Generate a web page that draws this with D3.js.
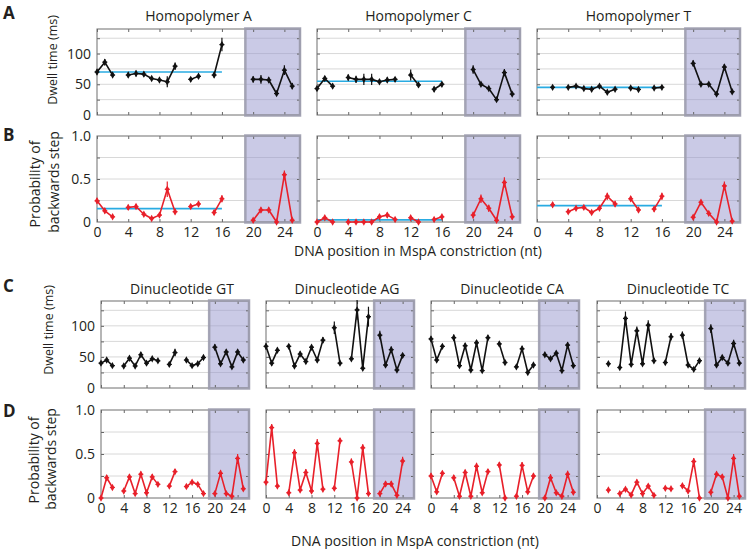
<!DOCTYPE html>
<html><head><meta charset="utf-8">
<script src="https://cdn.jsdelivr.net/npm/d3@7"></script>
<style>
body{margin:0;background:#fff;}
svg text{font-family:"Open Sans",sans-serif;fill:#231f20;}
</style></head><body>
<svg id="chart" width="747" height="549"></svg>
<script>
// ---------- data ----------
const positions = d3.range(0, 26);
const xTickValues = [0, 4, 8, 12, 16, 20, 24];
const dwellTickValues = [0, 50, 100];
const dwellGridValues = [25, 50, 75, 100, 125];
const probTickValues = [0, 0.5, 1.0];
const probGridValues = [0.25, 0.5, 0.75];
const homoTitles = ["Homopolymer A", "Homopolymer C", "Homopolymer T"];
const dinucTitles = ["Dinucleotide GT", "Dinucleotide AG", "Dinucleotide CA", "Dinucleotide TC"];
const shadedRange = [19, 26];
const baselineRange = [0, 16];

// Dwell time (ms), homopolymers
const dwellHomoA = [70,86,65,null,65,67.5,66.5,59.5,57,54,79.5,null,58,63,null,65,114.6,null,null,null,58,58,57,35,73,47];
const dwellHomoC = [43,59.5,47,null,61,58,58,58,54,57,58,null,65,49,null,42,50,null,null,null,74,50,43,25,69,34];
const dwellHomoT = [null,null,45,null,45,47,43,42,47,37,42,null,44,41.6,null,44,45,null,null,null,84,50,50,34,78,38];
const errDwellHomoA = [4,5,3,null,4,5,4,3,3,9,6,null,4,4,null,4,11,null,null,null,5,7,4,3,8,5];
const errDwellHomoC = [3,4,4,null,5,6,9,9,4,4,4,null,9,4,null,4,3,null,null,null,7,3,3,2,6,3];
const errDwellHomoT = [2,2,2,null,2,2,2,2,2,2,2,null,2,2,null,2,2,null,null,null,5,2,2,2,5,2];
const baselineDwellHomo = [70, 55, 45];

// Probability of backwards step, homopolymers
const backHomoA = [0.246,0.13,0.06,null,0.17,0.18,0.09,0.04,0.08,0.38,0.12,null,0.18,0.21,null,0.11,0.27,null,null,null,0.02,0.14,0.14,0.0,0.55,0.02];
const backHomoC = [0.0,0.05,0.0,null,0.0,0.0,0.0,0.0,0.06,0.08,0.03,null,0.05,0.0,null,0.03,0.06,null,null,null,0.08,0.27,0.16,0.02,0.46,0.06];
const backHomoT = [null,null,0.2,null,0.12,0.16,0.17,0.11,0.16,0.3,0.21,null,0.27,0.14,null,0.15,0.3,null,null,null,0.055,0.23,0.1,0.0,0.42,0.01];
const errBackHomoA = [0.03,0.03,0.02,null,0.03,0.03,0.02,0.01,0.02,0.09,0.03,null,0.03,0.03,null,0.03,0.04,null,null,null,0.01,0.03,0.03,0.0,0.05,0.01];
const errBackHomoC = [0.0,0.02,0.0,null,0.0,0.0,0.0,0.0,0.02,0.03,0.01,null,0.02,0.0,null,0.01,0.02,null,null,null,0.04,0.05,0.04,0.01,0.06,0.03];
const errBackHomoT = [null,null,0.03,null,0.02,0.02,0.02,0.02,0.02,0.04,0.03,null,0.03,0.03,null,0.03,0.04,null,null,null,0.02,0.03,0.02,0.0,0.05,0.01];
const baselineBackHomo = [0.155, 0.025, 0.19];

// Dwell time (ms), dinucleotides
const dwellGT = [40,45,36,null,35.5,48,35.5,53.5,40,47,43.7,null,38,57,null,45,36,39,49,null,65.6,39,58,34,58,45];
const dwellAG = [67,40,60.6,null,67,35.5,54.6,42.6,65.6,45,77,null,97,40,null,47,125.7,31.7,114.8,null,85,37,61.7,29,52.5,null];
const dwellCA = [79,45,67,null,81,36,68,29,72.7,28,81,null,71,41,null,34,63,25,37,null,53.6,47,56,28,69,36];
const dwellTC = [null,null,39,null,33,112,38,92,39,101,44,null,41,82.5,null,85,37,30,44,null,95.6,37,49,40,71.6,40];
const errDwellGT = [3,3,2,null,2,4,2,4,3,3,3,null,3,6,null,3,2,3,3,null,5,3,4,3,4,3];
const errDwellAG = [5,4,4,null,4,3,4,3,4,4,5,null,10,3,null,3,16,3,16,null,7,3,5,3,4,null];
const errDwellCA = [4,3,4,null,5,3,4,3,4,3,4,null,4,3,null,3,5,2,3,null,3,3,3,3,5,3];
const errDwellTC = [null,null,2,null,2,11,3,7,3,8,4,null,3,6,null,6,3,2,3,null,7,3,3,3,6,3];

// Probability of backwards step, dinucleotides
const backGT = [0.0,0.23,0.12,null,0.08,0.24,0.05,0.27,0.06,0.24,0.155,null,0.135,0.3,null,0.13,0.18,0.155,0.05,null,0.05,0.28,0.05,0.02,0.45,0.105];
const backAG = [0.18,0.8,0.135,null,0.06,0.515,0.09,0.29,0.08,0.62,0.1,null,0.11,0.65,null,0.41,0.0,0.57,0.05,null,0.05,0.16,0.16,0.03,0.42,null];
const backCA = [0.25,0.07,0.28,null,0.23,0.02,0.29,0.02,0.36,0.06,0.3,null,0.375,0.0,null,0.02,0.37,0.07,0.25,null,0.0,0.23,0.06,0.02,0.27,0.065];
const backTC = [null,null,0.09,null,0.05,0.1,0.035,0.18,0.05,0.135,0.03,null,0.11,0.105,null,0.14,0.08,0.415,0.0,null,0.065,0.27,0.24,0.0,0.45,0.02];
const errBackGT = [0.01,0.03,0.02,null,0.02,0.03,0.02,0.03,0.02,0.03,0.02,null,0.02,0.03,null,0.02,0.02,0.02,0.01,null,0.02,0.04,0.02,0.01,0.05,0.02];
const errBackAG = [0.02,0.04,0.02,null,0.02,0.04,0.02,0.04,0.02,0.05,0.02,null,0.02,0.03,null,0.04,0.0,0.04,0.02,null,0.02,0.03,0.03,0.01,0.05,null];
const errBackCA = [0.03,0.02,0.03,null,0.03,0.01,0.03,0.01,0.04,0.02,0.03,null,0.03,0.0,null,0.01,0.04,0.02,0.03,null,0.0,0.04,0.02,0.01,0.04,0.02];
const errBackTC = [null,null,0.02,null,0.01,0.02,0.01,0.03,0.01,0.02,0.01,null,0.02,0.02,null,0.02,0.02,0.04,0.0,null,0.02,0.03,0.03,0.0,0.05,0.01];

// ---------- drawing ----------
const svg = d3.select("#chart");
const BLACK = "#111111", RED = "#e8202a", CYAN = "#29abe2";

function drawPanel(cfg) {
  const g = svg.append("g").attr("transform", `translate(${cfg.left},${cfg.top})`);
  const w = cfg.width, h = cfg.height;
  const x = d3.scaleLinear().domain([0, 26]).range([0, w]);
  const y = d3.scaleLinear().domain(cfg.yDomain).range([h, 0]);

  g.append("rect").attr("width", w).attr("height", h).attr("fill", "#fff");
  g.selectAll(".grid").data(cfg.grid).join("line")
    .attr("x1", 0).attr("x2", w).attr("y1", d => y(d)).attr("y2", d => y(d))
    .attr("stroke", "#d8d8d8").attr("stroke-width", 1);
  g.append("rect")
    .attr("x", x(shadedRange[0])).attr("y", 0)
    .attr("width", x(shadedRange[1]) - x(shadedRange[0])).attr("height", h)
    .attr("fill", "rgb(150,150,205)").attr("fill-opacity", 0.5);
  const fmtX = cfg.xLabels ? d3.format("d") : () => "";
  const xb = g.append("g").attr("transform", `translate(0,${h})`)
    .call(d3.axisBottom(x).tickValues(xTickValues).tickSizeInner(-3).tickSizeOuter(0).tickPadding(5).tickFormat(fmtX));
  const xt = g.append("g")
    .call(d3.axisTop(x).tickValues(xTickValues).tickSizeInner(-3).tickSizeOuter(0).tickFormat(() => ""));
  const fmtY = cfg.yLabels ? cfg.yFormat : () => "";
  const yl = g.append("g")
    .call(d3.axisLeft(y).tickValues(cfg.yTicks).tickSizeInner(0).tickSizeOuter(0).tickPadding(6).tickFormat(fmtY));
  const yl2 = g.append("g")
    .call(d3.axisLeft(y).tickValues(cfg.grid).tickSizeInner(-3).tickSizeOuter(0).tickFormat(() => ""));
  const yr = g.append("g").attr("transform", `translate(${w},0)`)
    .call(d3.axisRight(y).tickValues(cfg.grid).tickSizeInner(-3).tickSizeOuter(0).tickFormat(() => ""));
  [xb, xt, yl, yl2, yr].forEach(a => {
    a.select(".domain").remove();
    a.selectAll("line").attr("stroke", "#666");
    a.selectAll("text").attr("font-family", "'Open Sans',sans-serif").attr("font-size", 14).attr("fill", "#231f20");
  });
  g.append("rect").attr("width", w).attr("height", h).attr("fill", "none")
    .attr("stroke", "#6e6e6e").attr("stroke-width", 1);
  g.append("rect")
    .attr("x", x(shadedRange[0])).attr("y", -0.5)
    .attr("width", x(shadedRange[1]) - x(shadedRange[0])).attr("height", h + 1)
    .attr("fill", "none").attr("stroke", "#9c9cae").attr("stroke-width", 2.5).attr("stroke-opacity", 0.9);

  if (cfg.baseline != null) {
    g.append("line")
      .attr("x1", x(baselineRange[0])).attr("x2", x(baselineRange[1]))
      .attr("y1", y(cfg.baseline)).attr("y2", y(cfg.baseline))
      .attr("stroke", CYAN).attr("stroke-width", 1.6);
  }
  const pts = positions.map((p, i) => ({x: p, v: cfg.values[i], e: cfg.errors[i]}));
  const line = d3.line().defined(d => d.v != null).x(d => x(d.x)).y(d => y(d.v));
  g.append("path").datum(pts).attr("d", line)
    .attr("fill", "none").attr("stroke", cfg.color).attr("stroke-width", 1.6).attr("stroke-linejoin", "round");
  const valid = pts.filter(d => d.v != null);
  g.selectAll(".eb").data(valid).join("line")
    .attr("x1", d => x(d.x)).attr("x2", d => x(d.x))
    .attr("y1", d => y(d.v - (d.e || 0))).attr("y2", d => y(d.v + (d.e || 0)))
    .attr("stroke", cfg.color).attr("stroke-width", 1.2);
  g.selectAll(".mk").data(valid).join("path")
    .attr("transform", d => `translate(${x(d.x)},${y(d.v)})`)
    .attr("d", d3.symbol(d3.symbolDiamond, 16)())
    .attr("fill", cfg.color);
  g.selectAll(".mkh").data(valid).join("line")
    .attr("x1", d => x(d.x) - 2.5).attr("x2", d => x(d.x) + 2.5)
    .attr("y1", d => y(d.v)).attr("y2", d => y(d.v))
    .attr("stroke", cfg.color).attr("stroke-width", 1.2);

  if (cfg.title) {
    svg.append("text").attr("x", cfg.left + w / 2 + (cfg.titleDx || 0)).attr("y", cfg.titleY)
      .attr("text-anchor", "middle").attr("font-size", 14).text(cfg.title);
  }
}

const fmtDwell = d3.format("d");
const fmtProb = d => d === 0 ? "0" : d3.format(".1f")(d);

const homoLefts = [97, 317, 537], homoW = 203;
const dinucLefts = [101, 266, 431, 597], dinucW = 148;

const homoDwell = [dwellHomoA, dwellHomoC, dwellHomoT];
const homoDwellErr = [errDwellHomoA, errDwellHomoC, errDwellHomoT];
const homoBack = [backHomoA, backHomoC, backHomoT];
const homoBackErr = [errBackHomoA, errBackHomoC, errBackHomoT];
homoLefts.forEach((L, i) => {
  drawPanel({left: L, top: 29, width: homoW, height: 86, yDomain: [0, 140],
    yTicks: dwellTickValues, grid: dwellGridValues, yFormat: fmtDwell,
    yLabels: i === 0, xLabels: false, values: homoDwell[i], errors: homoDwellErr[i],
    color: BLACK, baseline: baselineDwellHomo[i], title: homoTitles[i], titleY: 21});
  drawPanel({left: L, top: 136, width: homoW, height: 86, yDomain: [0, 1],
    yTicks: probTickValues, grid: probGridValues, yFormat: fmtProb,
    yLabels: i === 0, xLabels: true, values: homoBack[i], errors: homoBackErr[i],
    color: RED, baseline: baselineBackHomo[i]});
});

const dinucDwell = [dwellGT, dwellAG, dwellCA, dwellTC];
const dinucDwellErr = [errDwellGT, errDwellAG, errDwellCA, errDwellTC];
const dinucBack = [backGT, backAG, backCA, backTC];
const dinucBackErr = [errBackGT, errBackAG, errBackCA, errBackTC];
dinucLefts.forEach((L, i) => {
  drawPanel({left: L, top: 301, width: dinucW, height: 87, yDomain: [0, 140],
    yTicks: dwellTickValues, grid: dwellGridValues, yFormat: fmtDwell,
    yLabels: i === 0, xLabels: false, values: dinucDwell[i], errors: dinucDwellErr[i],
    color: BLACK, baseline: null, title: dinucTitles[i], titleY: 294, titleDx: 7});
  drawPanel({left: L, top: 410, width: dinucW, height: 88, yDomain: [0, 1],
    yTicks: probTickValues, grid: probGridValues, yFormat: fmtProb,
    yLabels: i === 0, xLabels: true, values: dinucBack[i], errors: dinucBackErr[i],
    color: RED, baseline: null});
});

[["A", 19], ["B", 141], ["C", 292], ["D", 417]].forEach(([t, yy]) => {
  svg.append("text").attr("x", 3).attr("y", yy).attr("font-family", "'Liberation Sans',Arial,sans-serif")
    .attr("font-weight", "bold").attr("font-size", 17).text(t);
});

function vText(txt, cx, cy, size) {
  svg.append("text").attr("transform", `translate(${cx},${cy}) rotate(-90)`)
    .attr("text-anchor", "middle").attr("dy", "0.35em").attr("font-size", size).text(txt);
}
vText("Dwell time (ms)", 53, 60, 12.5);
vText("Probability of", 35, 184, 14);
vText("backwards step", 54, 182, 14);
vText("Dwell time (ms)", 49, 330, 12.5);
vText("Probability of", 34, 460, 14);
vText("backwards step", 51, 459, 14);

svg.append("text").attr("x", 418).attr("y", 256).attr("text-anchor", "middle").attr("font-size", 14)
  .text("DNA position in MspA constriction (nt)");
svg.append("text").attr("x", 415).attr("y", 546).attr("text-anchor", "middle").attr("font-size", 14)
  .text("DNA position in MspA constriction (nt)");
</script>
</body></html>
